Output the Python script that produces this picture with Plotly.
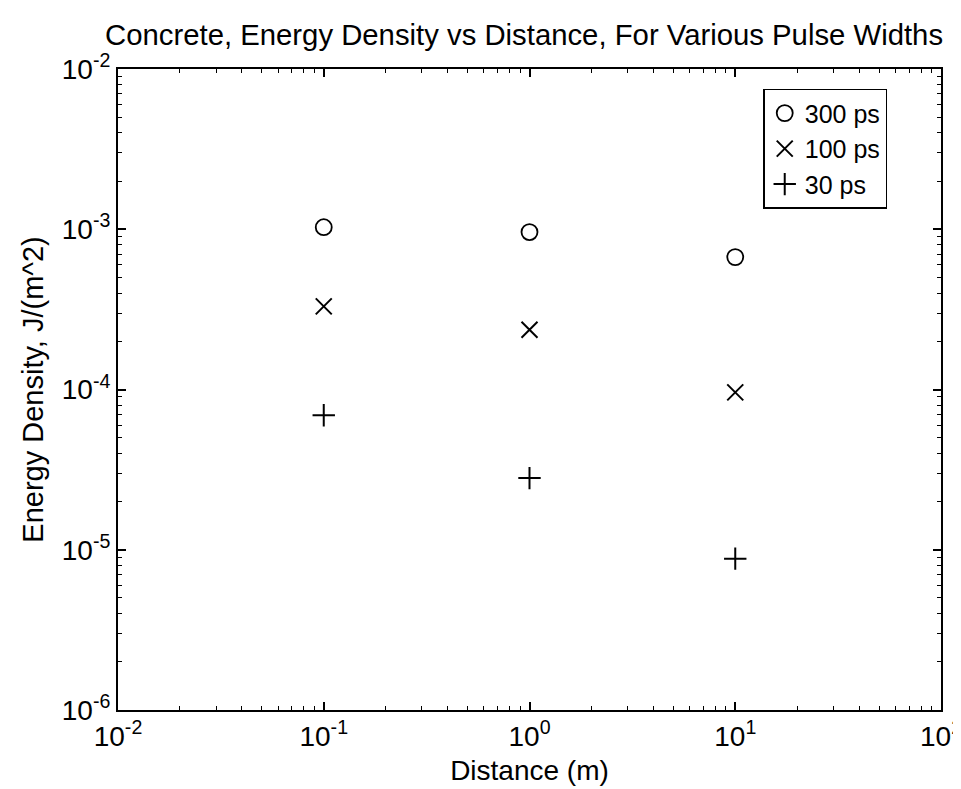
import plotly.graph_objects as go

# distances (m) and energy densities (J/m^2)
distance = [0.1, 1, 10]
e_300ps = [1.03e-3, 9.6e-4, 6.7e-4]
e_100ps = [3.3e-4, 2.36e-4, 9.6e-5]
e_30ps = [6.9e-5, 2.8e-5, 8.8e-6]

x_ticks = [0.01, 0.1, 1, 10, 100]
x_labels = ["10<sup>-2</sup>", "10<sup>-1</sup>", "10<sup>0</sup>", "10<sup>1</sup>", "10<sup>2</sup>"]
y_ticks = [1e-6, 1e-5, 1e-4, 1e-3, 1e-2]
y_labels = ["10<sup>-6</sup>", "10<sup>-5</sup>", "10<sup>-4</sup>", "10<sup>-3</sup>", "10<sup>-2</sup>"]

FONT = "Liberation Sans, Arial, sans-serif"

fig = go.Figure()
fig.add_trace(go.Scatter(x=distance, y=e_300ps, mode="markers", name="300 ps",
                         marker=dict(symbol="circle-open", size=16, color="black",
                                     line=dict(width=1.8, color="black"))))
fig.add_trace(go.Scatter(x=distance, y=e_100ps, mode="markers", name="100 ps",
                         marker=dict(symbol="x-thin-open", size=16, color="black",
                                     line=dict(width=2, color="black"))))
fig.add_trace(go.Scatter(x=distance, y=e_30ps, mode="markers", name="30 ps",
                         marker=dict(symbol="cross-thin-open", size=16, color="black",
                                     line=dict(width=2, color="black"))))

for ax, ticks, labels, rng in [(fig.layout.xaxis, x_ticks, x_labels, [-2, 2]),
                               (fig.layout.yaxis, y_ticks, y_labels, [-6, -2])]:
    ax.type = "log"
    ax.range = rng
    ax.automargin = False
    ax.showgrid = False
    ax.zeroline = False
    ax.showline = True
    ax.linecolor = "black"
    ax.linewidth = 2
    ax.mirror = "ticks"
    ax.ticks = "inside"
    ax.ticklen = 8
    ax.tickwidth = 1.5
    ax.tickcolor = "black"
    ax.tickvals = ticks
    ax.ticktext = labels
    ax.tickfont = dict(size=28, color="black", family=FONT)
    ax.minor = dict(ticks="inside", ticklen=4, tickwidth=1.2, tickcolor="black",
                    dtick="D1", showgrid=False)

fig.layout.xaxis.title = dict(text="Distance (m)", standoff=10,
                              font=dict(size=28, color="black", family=FONT))
fig.layout.yaxis.title = dict(text="Energy Density, J/(m^2)", standoff=10,
                              font=dict(size=29, color="black", family=FONT))

fig.update_layout(
    width=961, height=789,
    margin=dict(l=110, r=28, t=61, b=87),
    paper_bgcolor="white", plot_bgcolor="white",
    font=dict(family=FONT, color="black"),
    title=dict(text="Concrete, Energy Density vs Distance, For Various Pulse Widths",
               x=0.101, xref="container", xanchor="left",
               y=0.966, yref="container", yanchor="middle",
               font=dict(size=29.3, color="black", family=FONT)),
    legend=dict(x=0.784, y=0.969, xanchor="left", yanchor="top",
                bgcolor="white", bordercolor="black", borderwidth=1.5,
                font=dict(size=25, color="black", family=FONT),
                tracegroupgap=0, itemsizing="trace"),
)

fig.write_html("out.html")
